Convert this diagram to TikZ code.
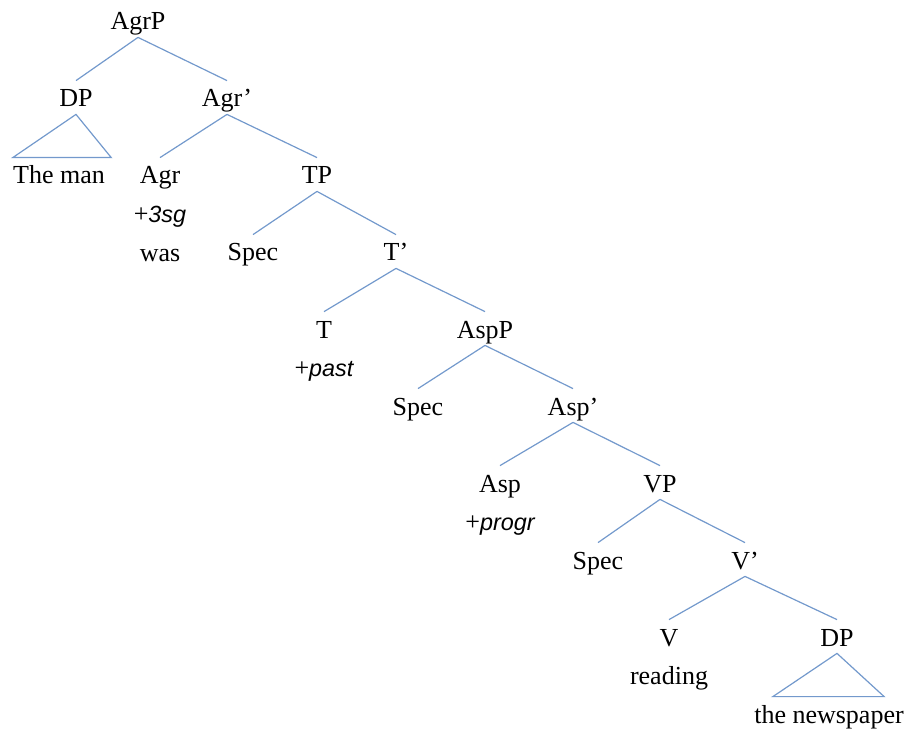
\documentclass[tikz,border=0pt]{standalone}
\usepackage{fontspec}
\setmainfont{Liberation Serif}
\newfontfamily\featfont[Scale=0.9]{Liberation Sans}
\usepackage{tikz}
\usetikzlibrary{positioning}
\definecolor{branch}{HTML}{7399CC}
\newcommand{\feat}[1]{{\featfont\itshape #1}}

\begin{document}
\begin{tikzpicture}[x=0.5pt,y=-0.5pt,font=\fontsize{13}{15}\selectfont,
  node distance=2.5pt,
  lab/.style={inner sep=0pt,text height=13pt,text depth=3.5pt},
  hd/.style={lab,anchor=base},
  br/.style={draw=branch,line width=0.6pt}]
  \useasboundingbox (0,0) rectangle (909,732);
  % phrase nodes, placed on their baselines
  \node[hd] (agrp)  at (138,30)  {AgrP};
  \node[hd] (dpa)   at (76,107)  {DP};
  \node[hd] (agrb)  at (227,107) {Agr’};
  \node[hd] (man)   at (59,184)  {The man};
  \node[hd] (agr)   at (160,184) {Agr};
  \node[hd] (tp)    at (317,184) {TP};
  \node[hd] (speca) at (253,261) {Spec};
  \node[hd] (tb)    at (396,261) {T’};
  \node[hd] (t)     at (324,338) {T};
  \node[hd] (aspp)  at (485,338) {AspP};
  \node[hd] (specb) at (418,415) {Spec};
  \node[hd] (aspb)  at (573,415) {Asp’};
  \node[hd] (asp)   at (500,492) {Asp};
  \node[hd] (vp)    at (660,492) {VP};
  \node[hd] (specc) at (598,569) {Spec};
  \node[hd] (vb)    at (745,569) {V’};
  \node[hd] (v)     at (669,646) {V};
  \node[hd] (dpb)   at (837,646) {DP};
  \node[hd] (np)    at (829,723) {the newspaper};
  % features and words under the heads
  \node[lab,below=of agr]  (agrf) {+\feat{3sg}};
  \node[lab,below=of agrf] (was)  {was};
  \node[lab,below=of t]    (tf)   {+\feat{past}};
  \node[lab,below=of asp]  (aspf) {+\feat{progr}};
  \node[lab,below=of v]    (rd)   {reading};
  % branches
  \draw[br] (agrp.south) -- (dpa.north); \draw[br] (agrp.south) -- (agrb.north);
  \draw[br] (agrb.south) -- (agr.north); \draw[br] (agrb.south) -- (tp.north);
  \draw[br] (tp.south) -- (speca.north); \draw[br] (tp.south) -- (tb.north);
  \draw[br] (tb.south) -- (t.north);     \draw[br] (tb.south) -- (aspp.north);
  \draw[br] (aspp.south) -- (specb.north); \draw[br] (aspp.south) -- (aspb.north);
  \draw[br] (aspb.south) -- (asp.north); \draw[br] (aspb.south) -- (vp.north);
  \draw[br] (vp.south) -- (specc.north); \draw[br] (vp.south) -- (vb.north);
  \draw[br] (vb.south) -- (v.north);     \draw[br] (vb.south) -- (dpb.north);
  % triangles
  \draw[br] (dpa.south) -- ([xshift=3pt]man.north east)
    -- (man.north west) -- cycle;
  \draw[br] (dpb.south) -- ([xshift=-10pt]np.north east)
    -- ([xshift=9.5pt]np.north west) -- cycle;
\end{tikzpicture}
\end{document}
